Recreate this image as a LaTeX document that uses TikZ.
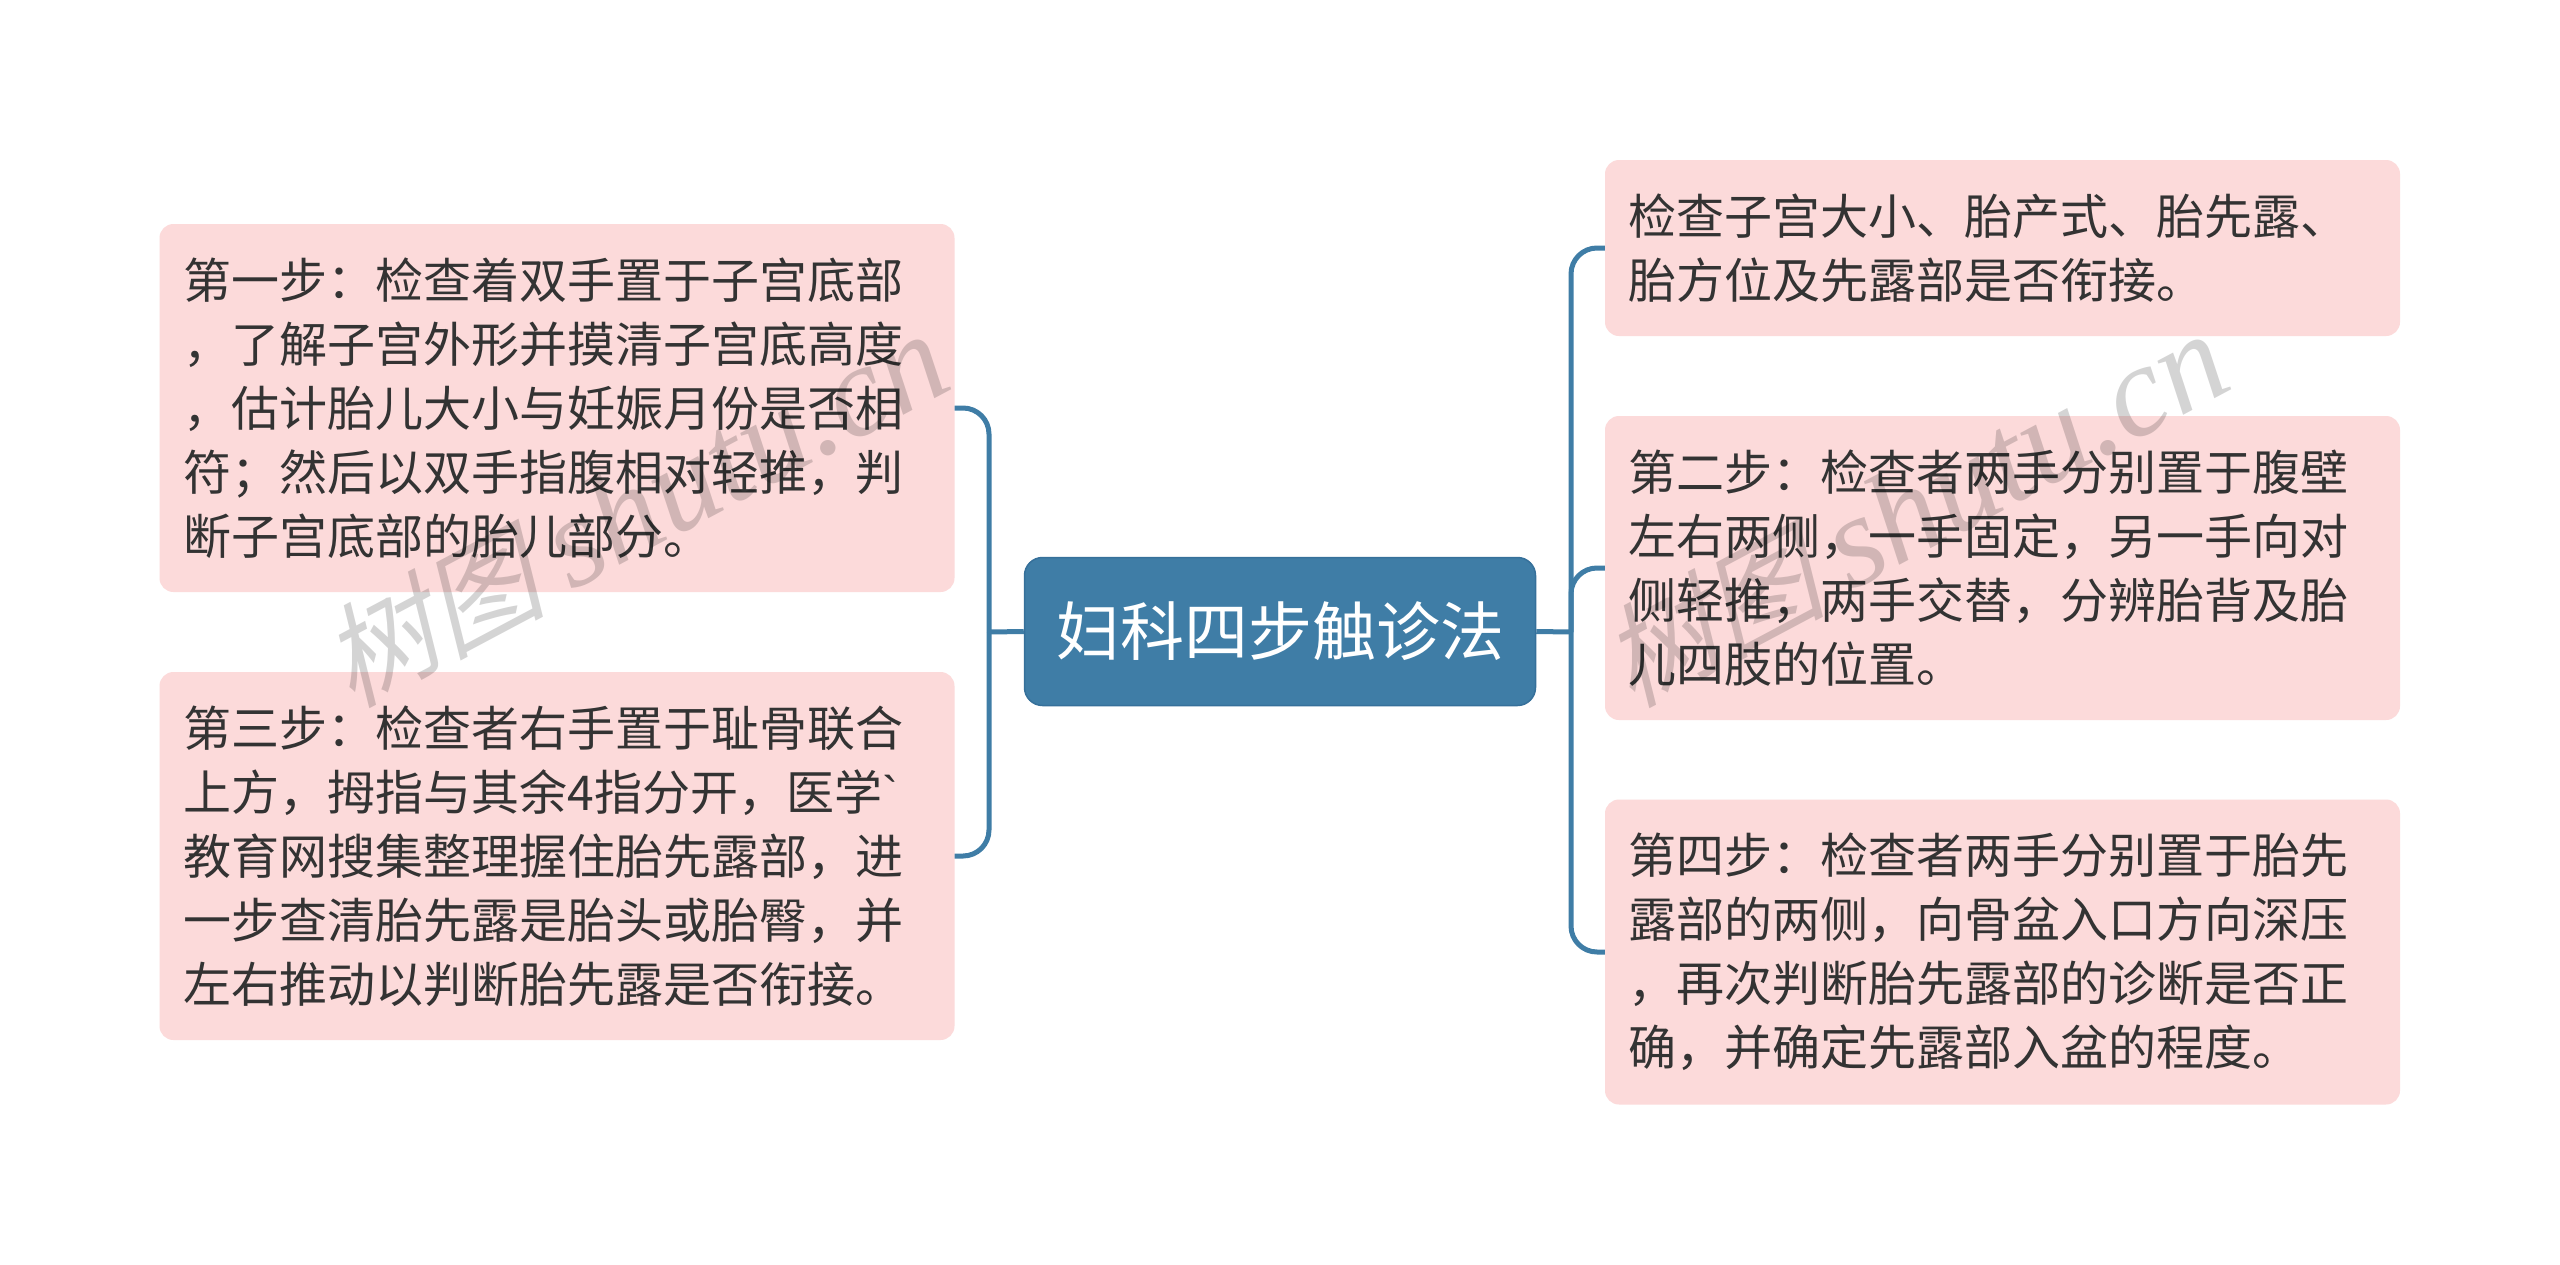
\documentclass[tikz,border=0pt]{standalone}
\usepackage{fontspec}
\setmainfont{Noto Sans CJK SC}
\newfontfamily\wmcjk[FakeSlant=0.25]{Noto Sans CJK SC}
\newfontfamily\wmlat{Liberation Serif}
\newfontfamily\plainlat{Liberation Sans}
\definecolor{boxfill}{HTML}{FCDADA}
\definecolor{topicfill}{HTML}{3F7DA6}
\definecolor{topicedge}{HTML}{36709A}
\definecolor{linkcol}{HTML}{3F7DA6}
\definecolor{bodytext}{HTML}{333333}
\tikzset{
  leafbox/.style={draw=none,fill=boxfill,rounded corners=14pt,inner sep=0pt,
    minimum width=795pt,text width=747pt,align=left,text=bodytext,
    font=\fontsize{48}{64}\selectfont},
  rightleaf/.style={leafbox,text width=749pt},
  topicbox/.style={draw=topicedge,line width=1.5pt,fill=topicfill,rounded corners=18pt,inner sep=0pt,
    minimum width=511pt,minimum height=148pt,text=white,font=\fontsize{64}{72}\selectfont},
  connline/.style={draw=linkcol,line width=5pt},
  bendline/.style={connline,rounded corners=26pt},
  wmarkstyle/.style={text=black,text opacity=0.17,rotate=28,inner sep=0pt}
}
\begin{document}
\begin{tikzpicture}[x=1pt,y=-1pt]
\useasboundingbox (0,0) rectangle (2560,1264);
\fill[white] (0,0) rectangle (2560,1264);
\coordinate (lx) at (989,632);
\coordinate (rx) at (1571,632);
\node[topicbox] (center) at (1280,631.5) {妇科四步触诊法};
\node[leafbox,minimum height=368pt] (b1) at (557,408) {第一步：检查着双手置于子宫底部\\，了解子宫外形并摸清子宫底高度\\，估计胎儿大小与妊娠月份是否相\\符；然后以双手指腹相对轻推，判\\断子宫底部的胎儿部分。};
\node[leafbox,minimum height=368pt] (b3) at (557,856) {第三步：检查者右手置于耻骨联合\\上方，拇指与其余4指分开，医学{\plainlat `}\\教育网搜集整理握住胎先露部，进\\一步查清胎先露是胎头或胎臀，并\\左右推动以判断胎先露是否衔接。};
\node[rightleaf,minimum height=176pt] (r1) at (2002.5,248) {检查子宫大小、胎产式、胎先露、\\胎方位及先露部是否衔接。};
\node[rightleaf,minimum height=304pt] (r2) at (2002.5,568) {第二步：检查者两手分别置于腹壁\\左右两侧，一手固定，另一手向对\\侧轻推，两手交替，分辨胎背及胎\\儿四肢的位置。};
\node[rightleaf,minimum height=305pt] (r4) at (2002.5,952) {第四步：检查者两手分别置于胎先\\露部的两侧，向骨盆入口方向深压\\，再次判断胎先露部的诊断是否正\\确，并确定先露部入盆的程度。};
\draw[connline] (center.west) -- (lx);
\draw[connline] (center.east) -- (rx);
\draw[bendline] (lx) |- (b1.east);
\draw[bendline] (lx) |- (b3.east);
\draw[bendline] (rx) |- (r1.west);
\draw[bendline] (rx) |- (r2.west);
\draw[bendline] (rx) |- (r4.west);
\node[wmarkstyle] (w1) at (634,510) {\fontsize{112}{112}\selectfont{\wmcjk 树图} {\fontsize{130}{130}\selectfont\wmlat\itshape shutu.cn}};
\node[wmarkstyle] (w2) at (1914,510) {\fontsize{112}{112}\selectfont{\wmcjk 树图} {\fontsize{130}{130}\selectfont\wmlat\itshape shutu.cn}};
\end{tikzpicture}
\end{document}
